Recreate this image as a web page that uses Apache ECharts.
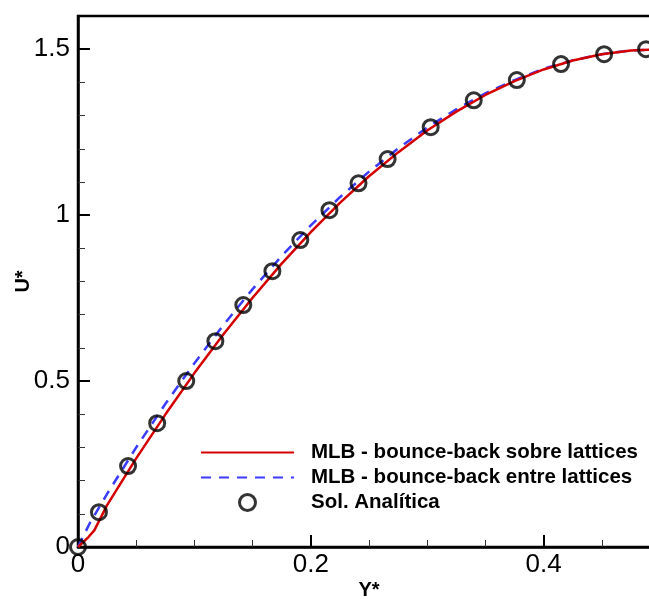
<!DOCTYPE html>
<html>
<head>
<meta charset="utf-8">
<script src="https://cdn.jsdelivr.net/npm/echarts@6/dist/echarts.min.js"></script>
<style>
html,body{margin:0;padding:0;background:#fff;overflow:hidden;width:649px;height:599px;}
#c{width:672px;height:599px;}
</style>
</head>
<body>
<div id="c"></div>
<script>
// Series names
var seriesNames = ['MLB - bounce-back sobre lattices', 'MLB - bounce-back entre lattices', 'Sol. Analítica'];

// MLB - bounce-back sobre lattices (red solid)
var redX = [0, 0.009, 0.014, 0.025, 0.05, 0.075, 0.1, 0.125, 0.15, 0.175, 0.2, 0.225, 0.25, 0.275, 0.3, 0.325, 0.35, 0.375, 0.4, 0.425, 0.45, 0.475, 0.5];
var redY = [0, 0.03, 0.05, 0.126, 0.267, 0.399, 0.524, 0.641, 0.751, 0.854, 0.949, 1.037, 1.117, 1.189, 1.255, 1.312, 1.362, 1.404, 1.439, 1.466, 1.485, 1.496, 1.5];

// MLB - bounce-back entre lattices (blue dashed)
var blueX = [0, 0.01, 0.025, 0.05, 0.075, 0.1, 0.125, 0.15, 0.175, 0.2, 0.225, 0.25, 0.275, 0.3, 0.325, 0.35, 0.375, 0.4, 0.425, 0.45, 0.475, 0.5];
var blueY = [0, 0.071, 0.16, 0.30, 0.431, 0.554, 0.669, 0.777, 0.877, 0.969, 1.054, 1.131, 1.201, 1.264, 1.319, 1.367, 1.407, 1.441, 1.466, 1.485, 1.496, 1.5];

// Sol. Analítica (circles)
var solX = [0, 0.018, 0.043, 0.068, 0.093, 0.118, 0.142, 0.167, 0.191, 0.216, 0.241, 0.266, 0.303, 0.340, 0.377, 0.415, 0.452, 0.488];
var solY = [0, 0.105, 0.244, 0.373, 0.5, 0.62, 0.729, 0.831, 0.925, 1.015, 1.096, 1.169, 1.265, 1.346, 1.407, 1.455, 1.485, 1.5];

// Tick labels
var xTickLabels = {0: '0', 0.2: '0.2', 0.4: '0.4'};
var yTickLabels = {0: '0', 0.5: '0.5', 1: '1', 1.5: '1.5'};

function zip(a, b) { return a.map(function (v, i) { return [v, b[i]]; }); }

var FONT = '"Liberation Sans", Arial, Helvetica, sans-serif';
var chart = echarts.init(document.getElementById('c'), null, {renderer: 'canvas'});

function lookup(map, v) {
  var k = Math.round(v * 1000) / 1000;
  return map.hasOwnProperty(k) ? map[k] : '';
}

var hiddenMark = {color: 'rgba(0,0,0,0)', borderColor: 'rgba(0,0,0,0)', borderWidth: 0};
var circleMark = {color: 'rgba(255,255,255,0)', borderColor: '#000', borderWidth: 3};

chart.setOption({
  animation: false,
  backgroundColor: '#fff',
  grid: {left: 78, right: 12, top: 16, bottom: 52, containLabel: false, outerBoundsMode: 'none',
         show: true, borderColor: '#000', borderWidth: 2.5, backgroundColor: 'transparent'},
  xAxis: {
    type: 'value', min: 0, max: 0.5, interval: 0.2,
    name: 'Y*', nameLocation: 'middle', nameGap: 33, nameMoveOverlap: false,
    nameTextStyle: {fontFamily: FONT, fontWeight: 'bold', fontSize: 20, color: '#000'},
    axisLine: {show: true, onZero: false, lineStyle: {color: '#000', width: 2.5}},
    axisTick: {show: true, inside: true, length: 12, lineStyle: {color: '#000', width: 2}},
    minorTick: {show: true, splitNumber: 4, length: 7, lineStyle: {color: '#333', width: 1}},
    splitLine: {show: false},
    minorSplitLine: {show: false},
    axisLabel: {fontFamily: FONT, fontSize: 26, color: '#000', margin: 5, formatter: function (v) { return lookup(xTickLabels, v); }}
  },
  yAxis: {
    type: 'value', min: 0, max: 1.6, interval: 0.5,
    name: 'U*', nameLocation: 'middle', nameGap: 45, nameRotate: 90, nameMoveOverlap: false,
    nameTextStyle: {fontFamily: FONT, fontWeight: 'bold', fontSize: 20, color: '#000'},
    axisLine: {show: true, onZero: false, lineStyle: {color: '#000', width: 2.5}},
    axisTick: {show: true, inside: true, length: 12, lineStyle: {color: '#000', width: 2}},
    minorTick: {show: true, splitNumber: 5, length: 7, lineStyle: {color: '#333', width: 1}},
    splitLine: {show: false},
    minorSplitLine: {show: false},
    axisLabel: {fontFamily: FONT, fontSize: 26, color: '#000', margin: 8, formatter: function (v) { return lookup(yTickLabels, v); }}
  },
  legend: {
    show: true, orient: 'vertical', left: 200, top: 442, padding: 0,
    itemWidth: 93, itemHeight: 16, itemGap: 4,
    textStyle: {fontFamily: FONT, fontWeight: 'bold', fontSize: 20.5, color: '#000', lineHeight: 16, padding: [0, 0, 0, 12]},
    data: [
      {name: seriesNames[0], itemStyle: hiddenMark},
      {name: seriesNames[1], itemStyle: hiddenMark},
      {name: seriesNames[2], itemStyle: circleMark}
    ],
    selectedMode: false
  },
  series: [
    {
      name: seriesNames[0], type: 'line', data: zip(redX, redY), showSymbol: false, symbol: 'none',
      lineStyle: {color: '#d40000', width: 2.5}, itemStyle: {color: '#d40000'}, z: 3
    },
    {
      name: seriesNames[1], type: 'line', data: zip(blueX, blueY), showSymbol: false, symbol: 'none',
      lineStyle: {color: '#3b3bff', width: 2.5, type: [10, 8]}, itemStyle: {color: '#3b3bff'}, z: 2
    },
    {
      name: seriesNames[2], type: 'scatter', data: zip(solX, solY), symbol: 'circle', symbolSize: 15, clip: false,
      itemStyle: circleMark, z: 4
    }
  ]
});
</script>
</body>
</html>
